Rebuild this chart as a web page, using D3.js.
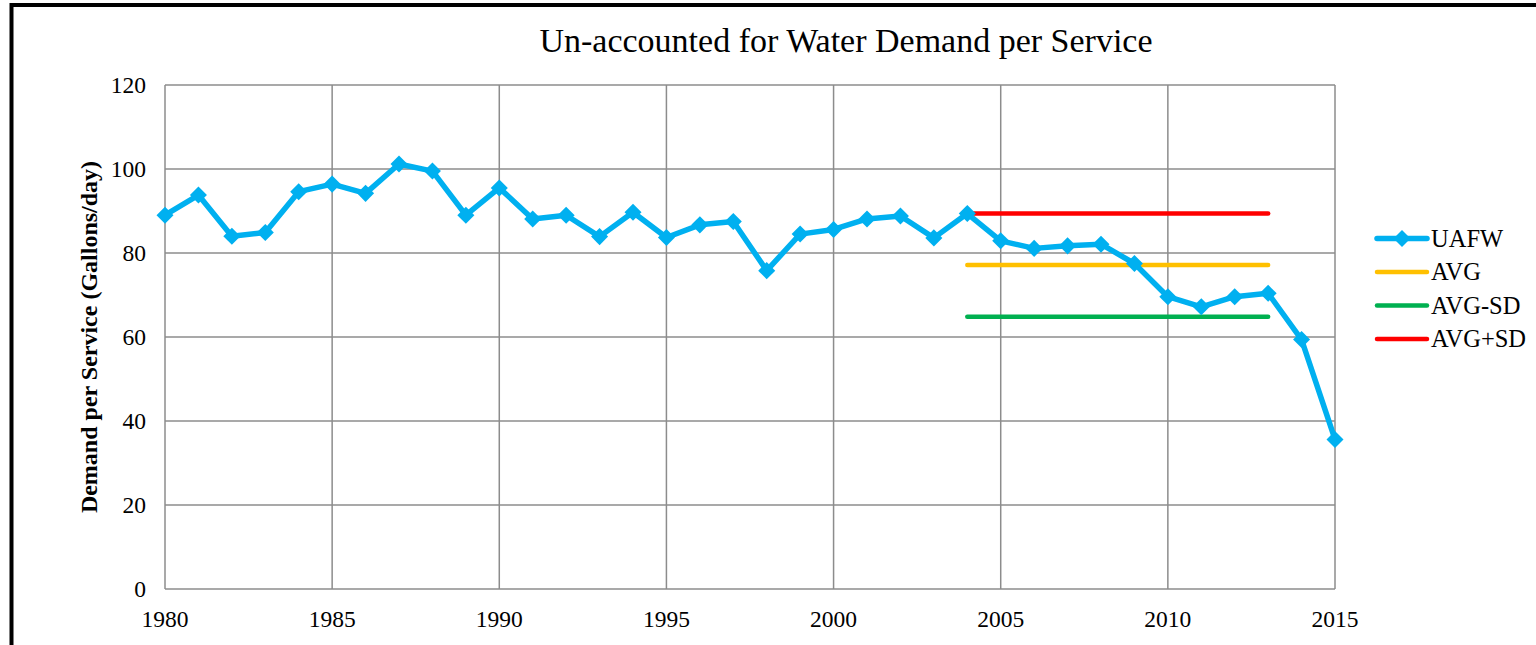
<!DOCTYPE html>
<html>
<head>
<meta charset="utf-8">
<script src="https://cdn.jsdelivr.net/npm/d3@7"></script>
<style>
  body { margin: 0; background: #fff; }
</style>
</head>
<body>
<div id="chart"></div>
<script>
var years = d3.range(1980, 2016);
var uafw = [89.0, 93.8, 84.0, 84.9, 94.6, 96.4, 94.2, 101.2, 99.5, 89.0,
            95.5, 88.1, 89.0, 83.9, 89.7, 83.7, 86.7, 87.5, 75.8, 84.5,
            85.6, 88.1, 88.8, 83.6, 89.4, 82.9, 81.1, 81.7, 82.1, 77.5,
            69.6, 67.2, 69.6, 70.4, 59.4, 35.6];
var refYears = [2004, 2013];
var avg = 77.15, avgMinusSd = 64.8, avgPlusSd = 89.4;
var xTicks = [1980, 1985, 1990, 1995, 2000, 2005, 2010, 2015];
var yTicks = [0, 20, 40, 60, 80, 100, 120];

var refLines = [
  {name: "AVG", value: avg, color: "#FFC000"},
  {name: "AVG-SD", value: avgMinusSd, color: "#00B050"},
  {name: "AVG+SD", value: avgPlusSd, color: "#FF0000"}
];

var serif = "'Liberation Serif', 'DejaVu Serif', serif";

var svg = d3.select("#chart").append("svg")
  .attr("width", 1536)
  .attr("height", 645)
  .style("font-family", serif);

// outer frame
svg.append("rect")
  .attr("x", 11.5).attr("y", 5)
  .attr("width", 1700).attr("height", 800)
  .attr("fill", "none")
  .attr("stroke", "#000")
  .attr("stroke-width", 4);

var x = d3.scaleLinear().domain([1980, 2015]).range([165, 1335]);
var y = d3.scaleLinear().domain([0, 120]).range([589, 85]);

var grid = svg.append("g");
grid.selectAll(".hg").data(yTicks).enter().append("line")
  .attr("x1", x(1980)).attr("x2", x(2015))
  .attr("y1", function(d) { return y(d); })
  .attr("y2", function(d) { return y(d); })
  .style("stroke", "#8c8c8c").style("stroke-width", 1.5);
grid.selectAll(".vg").data(xTicks).enter().append("line")
  .attr("x1", function(d) { return x(d); })
  .attr("x2", function(d) { return x(d); })
  .attr("y1", y(0)).attr("y2", y(120))
  .style("stroke", "#8c8c8c").style("stroke-width", 1.5);

svg.selectAll(".ylab").data(yTicks).enter().append("text")
  .attr("x", 146)
  .attr("y", function(d) { return y(d) + 8; })
  .attr("text-anchor", "end")
  .style("font-family", serif)
  .style("font-size", "23.5px")
  .text(function(d) { return d; });

svg.selectAll(".xlab").data(xTicks).enter().append("text")
  .attr("x", function(d) { return x(d); })
  .attr("y", 627)
  .attr("text-anchor", "middle")
  .style("font-family", serif)
  .style("font-size", "23.5px")
  .text(function(d) { return d; });

svg.append("text")
  .attr("x", 846).attr("y", 52)
  .attr("text-anchor", "middle")
  .style("font-family", serif)
  .style("font-size", "34px")
  .text("Un-accounted for Water Demand per Service");

svg.append("text")
  .attr("transform", "translate(97," + y(60) + ") rotate(-90)")
  .attr("text-anchor", "middle")
  .style("font-family", serif)
  .style("font-size", "24px")
  .style("font-weight", "bold")
  .text("Demand per Service (Gallons/day)");

// reference lines
svg.selectAll(".ref").data(refLines).enter().append("line")
  .attr("x1", x(refYears[0])).attr("x2", x(refYears[1]))
  .attr("y1", function(d) { return y(d.value); })
  .attr("y2", function(d) { return y(d.value); })
  .style("stroke", function(d) { return d.color; })
  .style("stroke-width", 4.5)
  .style("stroke-linecap", "round");

var data = years.map(function(yr, i) { return {year: yr, value: uafw[i]}; });
var line = d3.line()
  .x(function(d) { return x(d.year); })
  .y(function(d) { return y(d.value); });

svg.append("path").datum(data)
  .attr("d", line)
  .attr("fill", "none")
  .style("stroke", "#00B0F0")
  .style("stroke-width", 5.5)
  .style("stroke-linejoin", "round");

var diamond = d3.symbol().type(d3.symbolDiamond2).size(185);
svg.selectAll(".pt").data(data).enter().append("path")
  .attr("d", diamond)
  .attr("transform", function(d) { return "translate(" + x(d.year) + "," + y(d.value) + ")"; })
  .style("fill", "#00B0F0");

// legend
var legendItems = [{name: "UAFW", color: "#00B0F0", marker: true}].concat(refLines);
var lg = svg.selectAll(".lg").data(legendItems).enter().append("g")
  .attr("transform", function(d, i) { return "translate(1377," + (238.5 + i * 33.5) + ")"; });
lg.append("line")
  .attr("x1", 0).attr("x2", 50)
  .style("stroke", function(d) { return d.color; })
  .style("stroke-width", function(d) { return d.marker ? 5.5 : 4.5; })
  .style("stroke-linecap", "round");
lg.filter(function(d) { return d.marker; }).append("path")
  .attr("d", diamond)
  .attr("transform", "translate(25,0)")
  .style("fill", "#00B0F0");
lg.append("text")
  .attr("x", 54).attr("y", 8)
  .style("font-family", serif)
  .style("font-size", "24.5px")
  .text(function(d) { return d.name; });
</script>
</body>
</html>
